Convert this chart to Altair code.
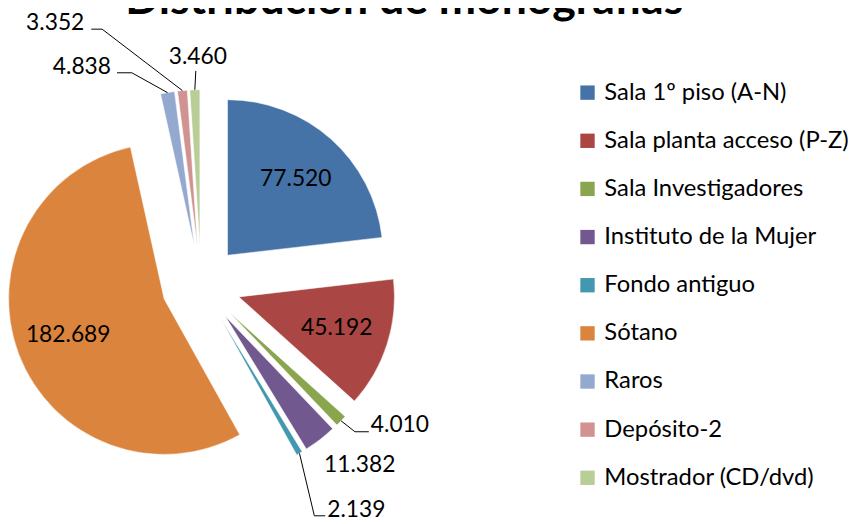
import math
import altair as alt
import pandas as pd

# ---------------- data ----------------
categories = [
    "Sala 1º piso (A-N)",
    "Sala planta acceso (P-Z)",
    "Sala Investigadores",
    "Instituto de la Mujer",
    "Fondo antiguo",
    "Sótano",
    "Raros",
    "Depósito-2",
    "Mostrador (CD/dvd)",
]
values = [77520, 45192, 4010, 11382, 2139, 182689, 4838, 3352, 3460]
title_text = "Distribución de monografías"

# ---------------- style / layout ----------------
colors = ["#4572A7", "#AA4643", "#89A54E", "#71588F", "#4198AF",
          "#DB843D", "#93A9CF", "#D19392", "#B9CD96"]
FONT = "Lato"
CX, CY = 195.0, 277.0      # pie centre (px, plot coords)
R = 157.0                  # pie radius
EXPLODE = 40.0             # explosion distance
INSIDE_R = EXPLODE + 0.66 * R
# outside-label layout: offsets from the slice's outer tip
outside = {
    "Sala Investigadores": (30, 11, "left", [(0, 0), (14, 11), (28, 11)]),
    "Instituto de la Mujer": (4, 33, "left", []),
    "Fondo antiguo": (28, 64, "left", [(0, 0), (15, 63), (26, 63)]),
    "Raros": (-57, -19, "right", [(0, 0), (-36, -20), (-51, -20)]),
    "Depósito-2": (-99, -61, "right", [(0, 0), (-81, -62), (-92, -62)]),
    "Mostrador (CD/dvd)": (3, -26, "center", [(0, 0), (1, -19)]),
}

total = sum(values)


def fmt(v):
    return f"{v:,}".replace(",", ".")


rows, lab_rows, lead_rows = [], [], []
cum = 0
for i, (c, v) in enumerate(zip(categories, values)):
    start, end = cum, cum + v
    cum = end
    mid = (start + end) / 2 / total * 2 * math.pi
    sx, sy = math.sin(mid), -math.cos(mid)
    rows.append({"category": c, "value": v, "start": start, "end": end,
                 "order": i, "cx": CX + EXPLODE * sx, "cy": CY + EXPLODE * sy})
    if c in outside:
        tx, ty = CX + (EXPLODE + R) * sx, CY + (EXPLODE + R) * sy
        dx, dy, al, pts = outside[c]
        lab_rows.append({"category": c, "label": fmt(v), "lx": tx + dx,
                         "ly": ty + dy, "al": al, "bl": "alphabetic"})
        for j, (px, py) in enumerate(pts):
            lead_rows.append({"category": c, "k": j, "px": tx + px, "py": ty + py})
    else:
        lab_rows.append({"category": c, "label": fmt(v),
                         "lx": CX + INSIDE_R * sx, "ly": CY + INSIDE_R * sy,
                         "al": "center", "bl": "middle"})

df = pd.DataFrame(rows)
lab = pd.DataFrame(lab_rows)
lead = pd.DataFrame(lead_rows)

pie = alt.Chart(df).mark_arc(radius=R, stroke="white", strokeWidth=0.5).encode(
    theta=alt.Theta("start:Q", scale=alt.Scale(domain=[0, total], range=[0, 2 * math.pi], nice=False, zero=True)),
    theta2="end:Q",
    x=alt.X("cx:Q", scale=None),
    y=alt.Y("cy:Q", scale=None),
    color=alt.Color(
        "category:N",
        scale=alt.Scale(domain=categories, range=colors),
        legend=alt.Legend(
            title=None, orient="none", legendX=573, legendY=71,
            symbolType="square", symbolSize=210, symbolStrokeWidth=0,
            labelFont=FONT, labelFontSize=24, labelColor="black",
            labelOffset=5, rowPadding=24.6, padding=0, labelLimit=400,
        ),
    ),
    order=alt.Order("order:Q"),
)

leaders = alt.Chart(lead).mark_line(color="black", strokeWidth=1).encode(
    x=alt.X("px:Q", scale=None),
    y=alt.Y("py:Q", scale=None),
    detail="category:N",
    order="k:Q",
)

base_text = dict(font=FONT, fontSize=23, color="black")


def text_layer(sub, al, bl):
    return alt.Chart(sub).mark_text(align=al, baseline=bl, **base_text).encode(
        x=alt.X("lx:Q", scale=None), y=alt.Y("ly:Q", scale=None), text="label:N")


labels_l = text_layer(lab[lab["al"] == "left"], "left", "alphabetic")
labels_r = text_layer(lab[lab["al"] == "right"], "right", "alphabetic")
labels_c = text_layer(lab[(lab["al"] == "center") & (lab["bl"] == "alphabetic")], "center", "alphabetic")
labels_in = text_layer(lab[lab["bl"] == "middle"], "center", "middle")

title = alt.Chart(pd.DataFrame({"t": [title_text]})).mark_text(
    font=FONT, fontSize=45, fontWeight="bold", color="black", align="center", baseline="alphabetic"
).encode(x=alt.value(400), y=alt.value(4), text="t:N")

chart = alt.layer(pie, leaders, labels_l, labels_r, labels_c, labels_in, title).properties(
    width=853, height=516, padding=0,
    autosize=alt.AutoSizeParams(type="none"),
).configure_view(stroke=None)

chart.save("out.html", embed_options={"renderer": "svg", "actions": False})
